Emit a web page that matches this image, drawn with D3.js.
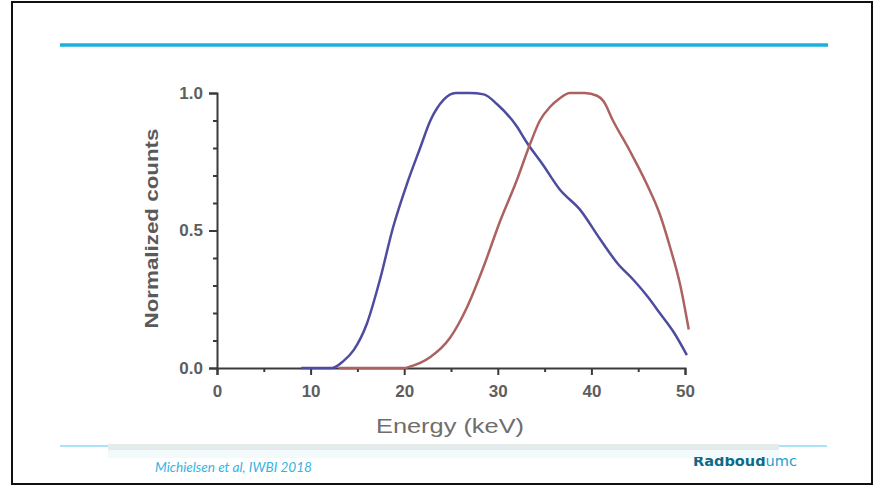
<!DOCTYPE html>
<html>
<head>
<meta charset="utf-8">
<script src="https://cdn.jsdelivr.net/npm/d3@7"></script>
<style>
  html, body { margin: 0; padding: 0; background: #fff; }
  svg { display: block; }
</style>
</head>
<body>
<div id="chart"></div>
<script>
// spectra (energy in keV, normalized counts)
const energyBlue = [9, 12.3, 13.5, 14.6, 16, 17.4, 18.8, 20.3, 21.7, 22.8, 24.2, 25.5, 27, 28.5, 29.9, 32, 33.1, 34.8, 36.6, 38.8, 40.9, 42.8, 44.5, 46, 47.3, 48.8, 50.2];
const countsBlue = [0, 0, 0.025, 0.065, 0.16, 0.32, 0.51, 0.67, 0.8, 0.9, 0.975, 1.0, 1.0, 0.995, 0.96, 0.88, 0.82, 0.74, 0.65, 0.575, 0.47, 0.38, 0.32, 0.26, 0.2, 0.13, 0.047];
const energyRed = [13, 20, 20.6, 22.8, 24.9, 26.7, 28.5, 30.2, 32, 33.4, 34.5, 35.6, 36.6, 37.7, 39.3, 40.6, 41.3, 42.3, 44.1, 45.9, 47.3, 48.4, 49.5, 50.4];
const countsRed = [0, 0, 0.005, 0.04, 0.11, 0.22, 0.37, 0.53, 0.68, 0.81, 0.9, 0.95, 0.98, 1.0, 1.0, 0.99, 0.97, 0.9, 0.79, 0.67, 0.56, 0.44, 0.3, 0.14];

const xTicks = [0, 10, 20, 30, 40, 50];
const xMinor = [5, 15, 25, 35, 45];
const yTicks = [0, 0.5, 1.0];
const yMinor = [0.1, 0.2, 0.3, 0.4, 0.6, 0.7, 0.8, 0.9];

const width = 878;
const height = 487;

const svg = d3.select("#chart")
  .append("svg")
  .attr("width", width)
  .attr("height", height);

// slide frame
svg.append("rect")
  .attr("x", 12).attr("y", 2)
  .attr("width", 860).attr("height", 482)
  .attr("fill", "#fff")
  .attr("stroke", "#111")
  .attr("stroke-width", 2);

svg.append("line")
  .attr("x1", 60).attr("x2", 828)
  .attr("y1", 45).attr("y2", 45)
  .attr("stroke", "#17b2de")
  .attr("stroke-width", 3.5);

// footer
svg.append("rect")
  .attr("x", 108).attr("y", 450)
  .attr("width", 671).attr("height", 8)
  .attr("fill", "#f3fafb");
svg.append("rect")
  .attr("x", 108).attr("y", 444)
  .attr("width", 671).attr("height", 6)
  .attr("fill", "#e5eaea");
svg.append("line")
  .attr("x1", 60).attr("x2", 108)
  .attr("y1", 446).attr("y2", 446)
  .attr("stroke", "#55c6ea").attr("stroke-width", 1);
svg.append("line")
  .attr("x1", 779).attr("x2", 827)
  .attr("y1", 446).attr("y2", 446)
  .attr("stroke", "#55c6ea").attr("stroke-width", 1);

svg.append("text")
  .attr("x", 155).attr("y", 472)
  .attr("font-family", "Lato, 'Open Sans', sans-serif")
  .attr("font-style", "italic")
  .attr("font-size", 13.6)
  .attr("fill", "#33b4e4")
  .text("Michielsen et al, IWBI 2018");

svg.append("clipPath").attr("id", "logoClip")
  .append("rect").attr("x", 680).attr("y", 457).attr("width", 150).attr("height", 20);

const logo = svg.append("text")
  .attr("clip-path", "url(#logoClip)")
  .attr("x", 693).attr("y", 466)
  .attr("font-family", "'DejaVu Sans', sans-serif")
  .attr("font-size", 14.5)
  .attr("textLength", 104)
  .attr("lengthAdjust", "spacingAndGlyphs");
logo.append("tspan").attr("font-weight", "bold").attr("fill", "#0b6a8a").text("Radboud");
logo.append("tspan").attr("fill", "#1e9fd0").text("umc");

// chart
const x = d3.scaleLinear().domain([0, 50]).range([217, 685]);
const y = d3.scaleLinear().domain([0, 1]).range([368, 93]);

const line = d3.line()
  .x(d => x(d[0]))
  .y(d => y(d[1]))
  .curve(d3.curveMonotoneX);

const blue = d3.zip(energyBlue, countsBlue);
const red = d3.zip(energyRed, countsRed);

svg.append("g")
  .attr("transform", `translate(0, ${y(0)})`)
  .call(d3.axisBottom(x).tickValues(xTicks).tickFormat(d3.format("d")).tickSize(7).tickPadding(10));

svg.append("g")
  .attr("transform", `translate(0, ${y(0)})`)
  .call(d3.axisBottom(x).tickValues(xMinor).tickFormat("").tickSize(4))
  .call(g => g.select(".domain").remove());

svg.append("g")
  .attr("transform", `translate(${x(0)}, 0)`)
  .call(d3.axisLeft(y).tickValues(yTicks).tickFormat(d3.format(".1f")).tickSize(8).tickPadding(6));

svg.append("g")
  .attr("transform", `translate(${x(0)}, 0)`)
  .call(d3.axisLeft(y).tickValues(yMinor).tickFormat("").tickSize(4))
  .call(g => g.select(".domain").remove());

svg.selectAll(".domain, .tick line")
  .attr("stroke", "#3a3a3a")
  .attr("stroke-width", 2);

svg.selectAll(".tick text")
  .attr("font-family", "'Liberation Sans', Arial, sans-serif")
  .attr("font-weight", "bold")
  .attr("font-size", 17)
  .attr("fill", "#5e5e5e");

svg.append("path")
  .datum(blue)
  .attr("fill", "none")
  .attr("stroke", "#4d4c9e")
  .attr("stroke-width", 2.5)
  .attr("d", line);

svg.append("path")
  .datum(red)
  .attr("fill", "none")
  .attr("stroke", "#ad6262")
  .attr("stroke-width", 2.5)
  .attr("d", line);

svg.append("text")
  .attr("transform", "translate(158, 228.5) rotate(-90)")
  .attr("text-anchor", "middle")
  .attr("font-family", "'Liberation Sans', Arial, sans-serif")
  .attr("font-weight", "bold")
  .attr("font-size", 19)
  .attr("fill", "#5a5a5a")
  .attr("textLength", 200)
  .attr("lengthAdjust", "spacingAndGlyphs")
  .text("Normalized counts");

svg.append("text")
  .attr("x", 450).attr("y", 433)
  .attr("text-anchor", "middle")
  .attr("font-family", "'Liberation Sans', Arial, sans-serif")
  .attr("font-size", 20)
  .attr("fill", "#6e6e6e")
  .attr("textLength", 148)
  .attr("lengthAdjust", "spacingAndGlyphs")
  .text("Energy (keV)");
</script>
</body>
</html>
